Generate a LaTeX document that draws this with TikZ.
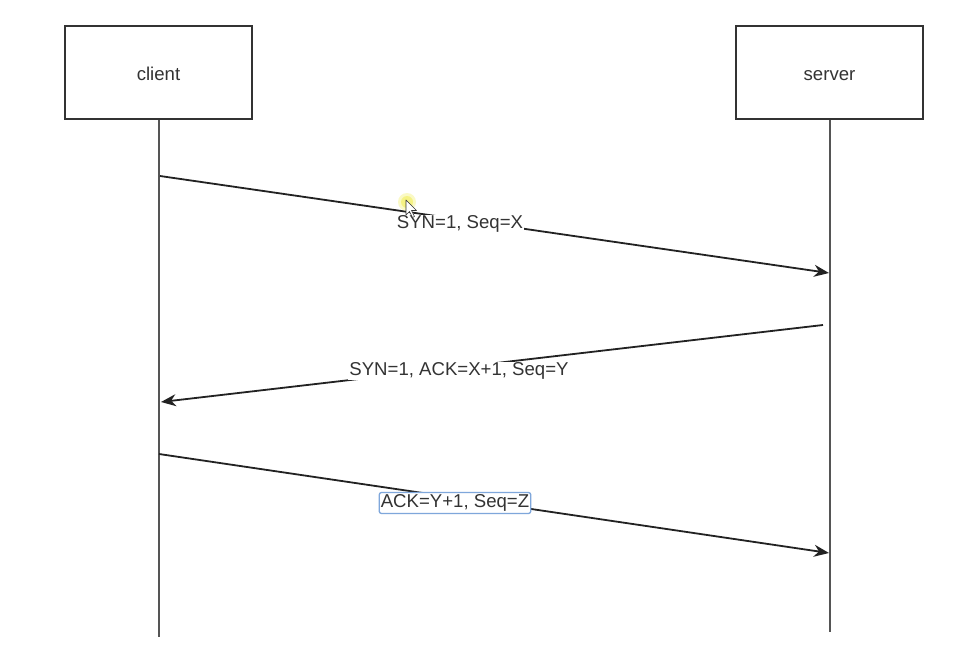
\documentclass[tikz,border=0pt]{standalone}
\usepackage{fontspec}
\setmainfont{Liberation Sans}
\usetikzlibrary{arrows.meta}
\definecolor{boxline}{HTML}{333333}
\definecolor{lifeline}{HTML}{555555}
\definecolor{msgline}{HTML}{222222}
\definecolor{txt}{HTML}{333333}
\definecolor{selblue}{HTML}{7FA7DB}
\definecolor{glow}{HTML}{F2EE5A}
\tikzset{
  actor/.style={draw=boxline, line width=1.9pt, minimum width=187pt, minimum height=93pt, inner sep=0pt, text=txt, text height=17pt, text depth=0pt, font=\fontsize{18.6}{22}\selectfont},
  life/.style={draw=lifeline, line width=2pt},
  msg/.style={draw=msgline, line width=1.8pt, -{Stealth[length=15pt,width=12pt]}},
  msglabel/.style={fill=white, inner sep=1pt, text=txt, font=\fontsize{18.6}{22}\selectfont},
  sellabel/.style={msglabel, draw=selblue, line width=1.3pt, rounded corners=2pt, inner xsep=1.5pt, inner ysep=2pt}
}
\begin{document}
\begin{tikzpicture}[x=1pt,y=-1pt]
\useasboundingbox[fill=white] (0,0) rectangle (964,650);
\node[actor] (client) at (158.5,72.5) {client};
\node[actor] (server) at (829.5,72.5) {server};
\coordinate (cend) at (158.5,637);
\coordinate (send) at (829.5,632);
\draw[life] (client.south) -- (cend);
\draw[life] (server.south) -- (send);
\coordinate (c1) at (160,176);
\coordinate (s1) at (829,273);
\coordinate (s2) at (823,325);
\coordinate (c2) at (161,402);
\coordinate (c3) at (159,454);
\coordinate (s3) at (829,553);
\draw[msg] (c1) -- (s1);
\draw[msg] (s2) -- (c2);
\draw[msg] (c3) -- (s3);
\node[msglabel] (l1) at (460,224) {SYN=1, Seq=X};
\node[msglabel] (l2) at (459,371) {SYN=1, ACK=X+1, Seq=Y};
\node[sellabel] (l3) at (455,503) {ACK=Y+1, Seq=Z};
% mouse cursor
\fill[glow, opacity=0.35] (407,202) circle (9pt);
\fill[glow, opacity=0.6] (407,202) circle (6pt);
\coordinate (cur) at (406,200);
\draw[fill=white, draw=black!80, line width=0.6pt, line join=round]
  (cur) -- ++(0,15) -- ++(3.5,-3.5) -- ++(3,6) -- ++(2,-1) -- ++(-3,-6) -- ++(5,0) -- cycle;
\end{tikzpicture}
\end{document}
